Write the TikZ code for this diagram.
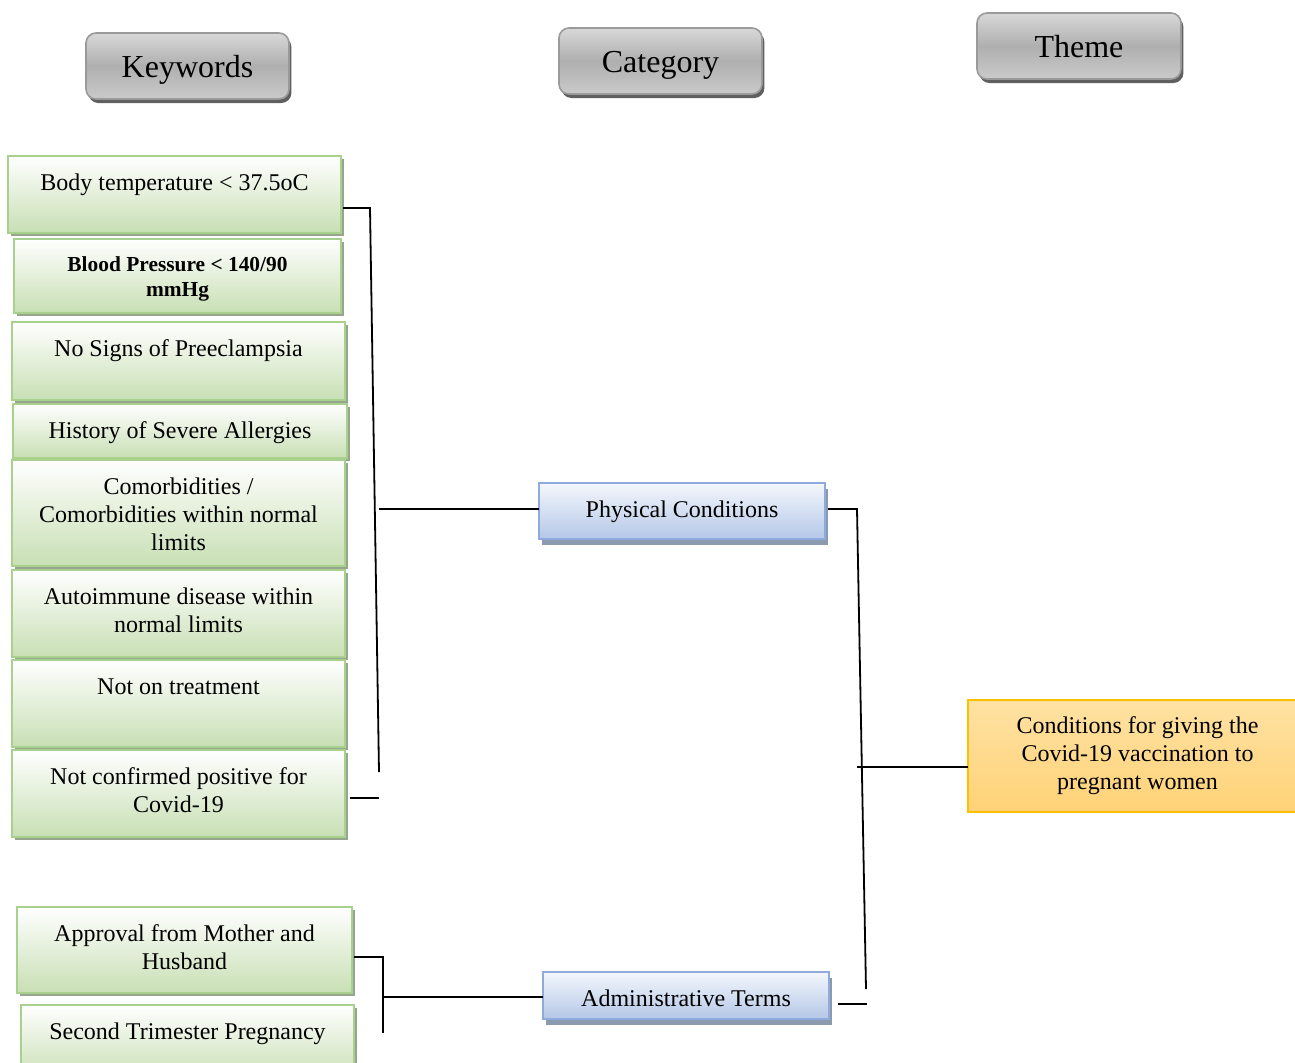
\documentclass[tikz,border=0pt]{standalone}
\usepackage{fontspec}
\setmainfont{Liberation Serif}
\usetikzlibrary{shadows}
\definecolor{gline}{HTML}{A9D18E}
\definecolor{gbot}{HTML}{C8DFB4}
\definecolor{gshad}{HTML}{98A58E}
\definecolor{bline}{HTML}{8FAADC}
\definecolor{btop}{HTML}{F4F7FC}
\definecolor{bbot}{HTML}{B4C7E7}
\definecolor{bshad}{HTML}{8B9AAF}
\definecolor{ytop}{HTML}{FFE2A3}
\definecolor{ybot}{HTML}{FFD277}
\definecolor{yline}{HTML}{FFC000}
\definecolor{hshad}{HTML}{5F5F5F}
\definecolor{hline}{HTML}{9A9A9A}
\definecolor{htop}{HTML}{D8D8D8}
\definecolor{hmid}{HTML}{AFAFAF}
\definecolor{hbot}{HTML}{CACACA}
\tikzset{
  greenbox/.style={draw=gline, line width=1pt, top color=white, bottom color=gbot,
    drop shadow={shadow xshift=1.5pt, shadow yshift=-1.5pt, fill=gshad, opacity=1}},
  bluebox/.style={draw=bline, line width=1pt, top color=btop, bottom color=bbot,
    drop shadow={shadow xshift=1.5pt, shadow yshift=-3pt, fill=bshad, opacity=1}},
  yellowbox/.style={draw=yline, line width=0.8pt, top color=ytop, bottom color=ybot},
  headbox/.style={draw=hline, line width=0.8pt, rounded corners=5pt,
    top color=htop, bottom color=hbot, middle color=hmid,
    drop shadow={shadow xshift=1.2pt, shadow yshift=-2pt, fill=hshad, opacity=1}},
  conn/.style={draw=black, line width=0.9pt},
}
% #1 style, #2 name, #3 x1, #4 y1, #5 x2, #6 y2 (px), #7 first-baseline (pt), #8 text
\newcommand\ebox[8]{%
  \pgfmathsetlengthmacro\bw{(#5-#3)*0.5}%
  \pgfmathsetlengthmacro\bh{(#6-#4)*0.5}%
  \node[#1, anchor=north west, inner sep=0pt, outer sep=0pt,
        minimum width=\bw, minimum height=\bh] (#2) at (#3,#4)
    {\parbox[c][\bh][t]{\bw}{\centering\rule{0pt}{#7}#8\par}};%
}
\newcommand\tw{\fontsize{12pt}{14pt}\selectfont}
\newcommand\hd{\fontsize{16pt}{18pt}\selectfont}
\begin{document}
\begin{tikzpicture}[x=0.5pt,y=-0.5pt]
\clip (0,0) rectangle (1295,1062);
% headers
\ebox{headbox}{hkw}{86}{33}{289}{99}{22pt}{\hd Keywords}
\ebox{headbox}{hcat}{559}{28}{762}{94}{22pt}{\hd Category}
\ebox{headbox}{hthm}{977}{13}{1181}{79}{22pt}{\hd Theme}
% keywords
\ebox{greenbox}{g1}{8}{156}{341}{233}{17pt}{\tw Body temperature < 37.5oC}
\ebox{greenbox}{g2}{14}{239}{341}{313}{16pt}{\fontsize{10.7pt}{12.5pt}\selectfont\bfseries Blood Pressure < 140/90\\ mmHg}
\ebox{greenbox}{g3}{12}{322}{345}{400}{17pt}{\tw No Signs of Preeclampsia}
\ebox{greenbox}{g4}{13}{404}{347}{458}{17pt}{\tw History of Severe Allergies}
\ebox{greenbox}{g5}{12}{460}{345}{566}{17pt}{\tw Comorbidities /\\ Comorbidities within normal\\ limits}
\ebox{greenbox}{g6}{12}{570}{345}{657}{17pt}{\tw Autoimmune disease within\\ normal limits}
\ebox{greenbox}{g7}{12}{660}{345}{747}{17pt}{\tw Not on treatment}
\ebox{greenbox}{g8}{12}{750}{345}{837}{17pt}{\tw Not confirmed positive for\\ Covid-19}
\ebox{greenbox}{g9}{17}{907}{352}{993}{17pt}{\tw Approval from Mother and\\ Husband}
\ebox{greenbox}{g10}{21}{1005}{354}{1080}{17pt}{\tw Second Trimester Pregnancy}
% categories
\ebox{bluebox}{pc}{539}{483}{825}{539}{17pt}{\tw Physical Conditions}
\ebox{bluebox}{at}{543}{972}{829}{1019}{17pt}{\tw Administrative Terms}
% theme
\ebox{yellowbox}{cond}{968}{700}{1307}{812}{16.5pt}{\tw Conditions for giving the\\ Covid-19 vaccination to\\ pregnant women}
% connectors
\coordinate (j1a) at (370,208);
\coordinate (j1b) at (379,772);
\draw[conn] (g1.east |- j1a) ++(1pt,0) -- (j1a) -- (j1b);
\coordinate (j8) at (379,798);
\draw[conn] (g8.east |- j8) ++(2.5pt,0) -- (j8);
\coordinate (j2) at (379,509);
\draw[conn] (j2) -- (j2 -| pc.west);
\coordinate (j3a) at (857,509);
\coordinate (j3b) at (866,989);
\draw[conn] (pc.east |- j3a) ++(1.5pt,0) -- (j3a) -- (j3b);
\coordinate (j4) at (857,767);
\draw[conn] (j4) -- (j4 -| cond.west);
\coordinate (j6) at (867,1004);
\draw[conn] (at.east |- j6) ++(4.5pt,0) -- (j6);
\coordinate (j5a) at (383,957);
\coordinate (j5b) at (383,1033);
\draw[conn] (g9.east |- j5a) ++(1pt,0) -- (j5a) -- (j5b);
\coordinate (j7) at (383,997);
\draw[conn] (j7) -- (j7 -| at.west);
\end{tikzpicture}
\end{document}
